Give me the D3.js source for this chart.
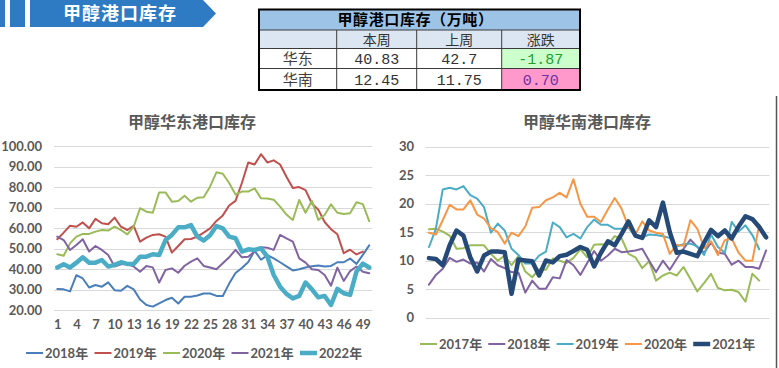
<!DOCTYPE html>
<html><head><meta charset="utf-8">
<script src="https://cdn.jsdelivr.net/npm/d3@7/dist/d3.min.js"></script>
<style>
html,body{margin:0;padding:0;background:#fff;}
svg{display:block;}
</style></head>
<body><svg id="c" width="779" height="368"></svg>
<script>
// ---------- data ----------
const bannerTitle = "甲醇港口库存";
const tableTitle = "甲醇港口库存（万吨）";
const tableCols = ["本周", "上周", "涨跌"];
const tableRows = ["华东", "华南"];
const thisWeek = [40.83, 12.45];
const lastWeek = [42.7, 11.75];

const eastTitle = "甲醇华东港口库存";
const southTitle = "甲醇华南港口库存";
const weeks = d3.range(1, 51);
const eastXTicks = [1, 4, 7, 10, 13, 16, 19, 22, 25, 28, 31, 34, 37, 40, 43, 46, 49];
const eastYTicks = [20, 30, 40, 50, 60, 70, 80, 90, 100];
const southYTicks = [0, 5, 10, 15, 20, 25, 30];

const eastNames = ["2018年", "2019年", "2020年", "2021年", "2022年"];
const east2018 = [30.4, 30.2, 29.2, 37.1, 35.5, 31.1, 32.3, 31.5, 33.6, 29.8, 29.5, 31.9, 30.2, 25.3, 22.6, 21.8, 23.4, 25.0, 26.1, 23.3,
  26.6, 26.6, 27.2, 28.2, 28.2, 27.0, 27.0, 33.0, 38.2, 40.6, 43.5, 49.0, 44.6, 46.8, 45.3, 43.4, 41.4, 39.4, 40.0, 40.8,
  41.5, 41.8, 41.3, 41.6, 43.4, 43.4, 45.2, 42.6, 47.0, 51.6];
const east2019 = [54.6, 57.8, 61.2, 60.7, 62.8, 59.9, 64.5, 62.4, 61.9, 65.1, 60.7, 59.1, 61.1, 53.4, 55.4, 56.7, 57.0, 55.9, 48.1, 51.3,
  54.6, 54.7, 55.9, 57.8, 59.9, 63.5, 66.2, 71.0, 73.3, 82.0, 92.0, 91.0, 96.0, 92.0, 93.0, 91.0, 85.0, 79.5, 80.0, 78.5,
  72.0, 69.0, 63.0, 59.5, 57.0, 47.8, 49.5, 47.2, 48.6];
const east2020 = [47.3, 46.6, 52.6, 55.9, 57.2, 57.2, 58.3, 59.1, 58.8, 60.7, 59.1, 57.0, 60.7, 69.7, 68.0, 67.5, 77.4, 77.4, 72.9, 73.2,
  75.8, 72.9, 74.8, 75.0, 80.2, 87.2, 86.5, 82.0, 76.4, 77.8, 77.8, 79.4, 74.5, 74.4, 73.8, 70.5, 66.6, 64.0, 73.7, 67.5,
  73.3, 64.0, 66.4, 71.6, 67.5, 66.9, 67.3, 72.6, 71.7, 63.4];
const east2021 = [55.9, 54.2, 49.4, 51.8, 54.6, 48.6, 51.3, 49.4, 46.9, 41.3, 42.4, 42.6, 41.3, 38.8, 41.6, 40.9, 33.5, 39.6, 40.4, 38.3,
  41.7, 43.7, 45.3, 41.6, 40.8, 40.0, 42.9, 45.8, 49.4, 45.8, 46.1, 48.6, 50.7, 50.5, 49.4, 56.7, 55.0, 53.4, 45.3, 43.2,
  40.0, 39.6, 37.2, 32.0, 40.8, 34.3, 39.1, 41.3, 38.8, 38.0];
const east2022 = [40.8, 42.4, 40.8, 43.2, 45.8, 43.2, 43.2, 44.5, 41.3, 42.1, 43.4, 42.6, 42.6, 46.1, 46.1, 47.3, 46.9, 54.2, 56.7, 60.4,
  60.4, 61.5, 55.9, 54.0, 56.5, 61.0, 59.9, 55.9, 55.1, 48.6, 49.7, 49.4, 50.2, 46.1, 37.2, 31.5, 28.0, 25.8, 27.0, 33.5,
  30.2, 26.3, 27.0, 22.6, 30.4, 28.3, 27.5, 38.8, 42.7, 40.83];

const southNames = ["2017年", "2018年", "2019年", "2020年", "2021年"];
const south2017 = [15.5, 15.6, 15.1, 14.4, 12.1, 12.2, 12.7, 12.7, 12.7, 11.2, 10.0, 10.9, 9.2, 10.8, 8.1, 7.1, 8.5, 8.4, 10.4, 10.0,
  9.6, 10.5, 12.0, 10.6, 12.8, 12.9, 12.8, 14.3, 13.9, 11.2, 10.6, 8.7, 9.9, 6.5, 7.4, 7.9, 7.4, 8.9, 6.8, 4.6,
  6.1, 7.7, 5.2, 4.8, 4.9, 4.5, 2.8, 7.7, 6.5];
const south2018 = [5.8, 7.5, 8.6, 10.5, 9.8, 10.2, 9.5, 9.7, 8.1, 10.3, 9.2, 8.7, 8.0, 7.9, 4.4, 6.5, 5.1, 5.1, 7.1, 6.9,
  10.1, 9.2, 7.5, 9.6, 11.7, 10.0, 10.9, 12.1, 11.5, 11.6, 11.8, 12.1, 10.0, 8.0, 10.0, 8.4, 10.3, 12.1, 13.7, 12.4,
  11.4, 13.2, 11.4, 11.2, 9.3, 10.0, 8.9, 8.9, 8.6, 11.8];
const south2019 = [12.4, 15.6, 22.5, 22.8, 22.5, 23.1, 21.5, 20.9, 19.4, 14.9, 16.5, 15.3, 12.1, 11.0, 9.5, 9.5, 10.9, 11.6, 16.7, 15.9,
  14.1, 14.7, 13.9, 15.9, 17.2, 16.3, 16.3, 15.6, 15.6, 15.8, 14.2, 14.1, 14.6, 14.5, 14.3, 14.0, 12.5, 12.9, 13.0, 12.5,
  11.0, 14.6, 12.4, 11.4, 16.8, 15.1, 16.2, 14.5, 12.0];
const south2020 = [14.9, 14.6, 17.1, 19.8, 19.0, 19.0, 20.6, 18.1, 17.4, 15.7, 15.0, 13.0, 14.9, 14.3, 16.0, 19.3, 19.4, 20.6, 21.1, 21.9,
  21.1, 24.3, 20.0, 17.7, 17.7, 16.8, 19.0, 21.0, 19.1, 15.9, 14.6, 16.9, 15.3, 14.9, 14.7, 11.2, 12.8, 12.6, 17.1, 15.6,
  12.2, 13.4, 11.0, 13.6, 13.9, 11.4, 10.0, 10.0, 16.3, 14.3];
const south2021 = [10.45, 10.3, 9.2, 12.7, 15.3, 14.4, 10.6, 8.1, 10.9, 11.6, 11.6, 11.5, 4.2, 10.2, 10.05, 9.9, 7.4, 10.05, 9.7, 10.8,
  11.05, 11.7, 12.4, 11.9, 9.0, 11.4, 13.4, 12.7, 14.7, 16.9, 14.4, 14.0, 17.1, 15.9, 20.2, 15.0, 11.4, 11.6, 11.2, 10.8,
  13.2, 15.4, 14.3, 15.3, 13.9, 16.0, 17.8, 17.3, 15.9, 14.1];

// ---------- drawing ----------
const svg = d3.select("#c");
const CJK = "'Noto Sans CJK SC', sans-serif";
const NUM = "Lato, 'Noto Sans CJK SC', sans-serif";
const BLUE = "#2e7bc4";

// banner
svg.append("rect").attr("x", 0).attr("y", 0).attr("width", 5).attr("height", 27).attr("fill", BLUE);
svg.append("rect").attr("x", 10).attr("y", 0).attr("width", 15).attr("height", 27).attr("fill", BLUE);
svg.append("path").attr("d", "M30,0 L203,0 L216,13.5 L203,27 L30,27 Z").attr("fill", BLUE);
svg.append("text").attr("x", 120).attr("y", 20).attr("text-anchor", "middle")
  .attr("font-family", CJK).attr("font-weight", "bold").attr("font-size", 18)
  .attr("letter-spacing", 1).attr("fill", "#fff").text(bannerTitle);

// table
const tx = [259, 336.7, 416.7, 501.7, 580];
const ty = [9.5, 30, 48.5, 68.5, 90];
const tg = svg.append("g");
tg.append("rect").attr("x", tx[0]).attr("y", ty[0]).attr("width", tx[4] - tx[0]).attr("height", ty[1] - ty[0]).attr("fill", "#9dc3e6");
tg.append("rect").attr("x", tx[0]).attr("y", ty[1]).attr("width", tx[4] - tx[0]).attr("height", ty[2] - ty[1]).attr("fill", "#dce6f2");
const change = thisWeek.map((v, i) => +(v - lastWeek[i]).toFixed(2));
const chgBg = ["#ccffcc", "#ff99cc"];
const chgFg = ["#1e9e2e", "#7030a0"];
change.forEach((c, i) => {
  tg.append("rect").attr("x", tx[3]).attr("y", ty[2 + i]).attr("width", tx[4] - tx[3]).attr("height", ty[3 + i] - ty[2 + i])
    .attr("fill", c < 0 ? chgBg[0] : chgBg[1]);
});
[ty[1], ty[2], ty[3]].forEach(y => tg.append("line").attr("x1", tx[0]).attr("x2", tx[4]).attr("y1", y).attr("y2", y).attr("stroke", "#3a3a3a").attr("stroke-width", 1));
[tx[1], tx[2], tx[3]].forEach(x => tg.append("line").attr("x1", x).attr("x2", x).attr("y1", ty[1]).attr("y2", ty[4]).attr("stroke", "#3a3a3a").attr("stroke-width", 1));
tg.append("rect").attr("x", tx[0]).attr("y", ty[0]).attr("width", tx[4] - tx[0]).attr("height", ty[4] - ty[0])
  .attr("fill", "none").attr("stroke", "#000").attr("stroke-width", 2);
tg.append("text").attr("x", (tx[0] + tx[4]) / 2 - 4).attr("y", 25).attr("text-anchor", "middle")
  .attr("font-family", CJK).attr("font-weight", "bold").attr("font-size", 15).attr("letter-spacing", 0.6)
  .attr("fill", "#000").text(tableTitle);
tableCols.forEach((t, j) => {
  tg.append("text").attr("x", (tx[j + 1] + tx[j + 2]) / 2).attr("y", 44.5).attr("text-anchor", "middle")
    .attr("font-family", CJK).attr("font-size", 14).attr("fill", "#333").text(t);
});
const MONO = "'Liberation Mono', monospace";
tableRows.forEach((r, i) => {
  const yc = (ty[2 + i] + ty[3 + i]) / 2 + 5.5;
  tg.append("text").attr("x", (tx[0] + tx[1]) / 2).attr("y", yc).attr("text-anchor", "middle")
    .attr("font-family", CJK).attr("font-size", 15).attr("fill", "#404040").text(r);
  tg.append("text").attr("x", (tx[1] + tx[2]) / 2).attr("y", yc).attr("text-anchor", "middle")
    .attr("font-family", MONO).attr("font-size", 15).attr("fill", "#333").text(String(thisWeek[i]));
  tg.append("text").attr("x", (tx[2] + tx[3]) / 2).attr("y", yc).attr("text-anchor", "middle")
    .attr("font-family", MONO).attr("font-size", 15).attr("fill", "#333").text(String(lastWeek[i]));
  tg.append("text").attr("x", (tx[3] + tx[4]) / 2).attr("y", yc).attr("text-anchor", "middle")
    .attr("font-family", MONO).attr("font-size", 15).attr("fill", change[i] < 0 ? chgFg[0] : chgFg[1])
    .text(change[i].toFixed(2));
});

// right frame line
svg.append("line").attr("x1", 776.5).attr("x2", 776.5).attr("y1", 96).attr("y2", 368).attr("stroke", "#555").attr("stroke-width", 1.5);

function drawChart(opt) {
  const g = svg.append("g");
  const x = d3.scalePoint().domain(weeks).range([opt.x0, opt.x1]);
  const y = d3.scaleLinear().domain(opt.ydom).range(opt.yr);
  const gx0 = opt.x0 - x.step() / 2, gx1 = opt.x1 + x.step() / 2;
  g.append("text").attr("x", opt.titleX).attr("y", 128).attr("text-anchor", "middle")
    .attr("font-family", CJK).attr("font-weight", "bold").attr("font-size", 16).attr("fill", "#595959").text(opt.title);
  g.selectAll(null).data(opt.yTicks).join("line")
    .attr("x1", gx0).attr("x2", gx1).attr("y1", d => Math.round(y(d)) + 0.5).attr("y2", d => Math.round(y(d)) + 0.5)
    .attr("stroke", "#d9d9d9").attr("stroke-width", 1);
  const yAxis = d3.axisLeft(y).tickValues(opt.yTicks).tickFormat(opt.yFmt).tickSize(0).tickPadding(0);
  const ya = g.append("g").attr("transform", `translate(${opt.yLabelX},0)`).call(yAxis);
  ya.select(".domain").remove();
  ya.selectAll("text").attr("font-family", NUM).attr("font-weight", "bold").attr("font-size", 13).attr("fill", "#595959");
  if (opt.xTicks) {
    const xAxis = d3.axisBottom(x).tickValues(opt.xTicks).tickSize(0).tickPadding(0);
    const xa = g.append("g").attr("transform", `translate(0,${opt.xLabelY})`).call(xAxis);
    xa.select(".domain").remove();
    xa.selectAll("text").attr("font-family", NUM).attr("font-weight", "bold").attr("font-size", 13).attr("fill", "#595959");
  }
  const line = d3.line().x((d, i) => x(weeks[i])).y(d => y(d));
  opt.series.forEach(s => {
    g.append("path").attr("d", line(s.values)).attr("fill", "none").attr("stroke", s.color)
      .attr("stroke-width", s.width).attr("stroke-linejoin", "round").attr("stroke-linecap", "round");
  });
  opt.series.forEach((s, i) => {
    const lx = opt.legX + i * opt.legStep;
    g.append("line").attr("x1", lx).attr("x2", lx + 17).attr("y1", opt.legY).attr("y2", opt.legY)
      .attr("stroke", s.color).attr("stroke-width", s.width);
    g.append("text").attr("x", lx + 19).attr("y", opt.legY + 5).attr("font-family", NUM).attr("font-weight", "bold")
      .attr("font-size", 13).attr("fill", "#595959").text(s.name);
  });
}

drawChart({
  title: eastTitle, titleX: 192,
  x0: 57.3, x1: 369.2, ydom: [20, 100], yr: [310.3, 146], yTicks: eastYTicks,
  yFmt: d3.format(".2f"), yLabelX: 42, xTicks: eastXTicks, xLabelY: 320,
  legX: 26, legStep: 68.5, legY: 353,
  series: [
    { name: eastNames[0], values: east2018, color: "#4a7ebb", width: 2 },
    { name: eastNames[1], values: east2019, color: "#c0504d", width: 2 },
    { name: eastNames[2], values: east2020, color: "#9bbb59", width: 2 },
    { name: eastNames[3], values: east2021, color: "#8064a2", width: 2 },
    { name: eastNames[4], values: east2022, color: "#4bacc6", width: 4.5 }
  ]
});

drawChart({
  title: southTitle, titleX: 587,
  x0: 429, x1: 766.1, ydom: [0, 30], yr: [317.7, 146.7], yTicks: southYTicks,
  yFmt: d3.format("d"), yLabelX: 414, xTicks: null,
  legX: 420, legStep: 68.3, legY: 344,
  series: [
    { name: southNames[0], values: south2017, color: "#9bbb59", width: 2 },
    { name: southNames[1], values: south2018, color: "#8064a2", width: 2 },
    { name: southNames[2], values: south2019, color: "#4bacc6", width: 2 },
    { name: southNames[3], values: south2020, color: "#f79646", width: 2 },
    { name: southNames[4], values: south2021, color: "#254a77", width: 4.5 }
  ]
});
</script>
</body></html>
